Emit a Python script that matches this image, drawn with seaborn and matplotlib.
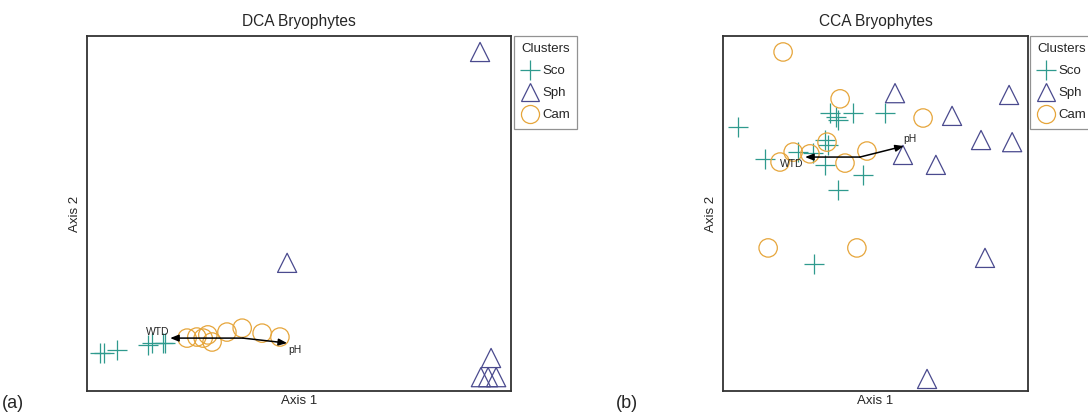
import matplotlib
matplotlib.use("Agg")
import matplotlib.pyplot as plt
from matplotlib.lines import Line2D
import seaborn as sns
import pandas as pd

# ---- DCA site scores ----
dca_sco_x = [0.31, 0.40, 0.71, 1.44, 1.53, 1.79, 1.84]
dca_sco_y = [1.07, 1.07, 1.15, 1.30, 1.35, 1.35, 1.35]
dca_sph_x = [9.27, 4.72, 9.53, 9.29, 9.46, 9.65]
dca_sph_y = [9.55, 3.61, 0.93, 0.39, 0.39, 0.39]
dca_cam_x = [2.36, 2.59, 2.85, 2.95, 3.30, 3.66, 4.13, 4.55, 2.74]
dca_cam_y = [1.49, 1.52, 1.58, 1.38, 1.66, 1.77, 1.63, 1.52, 1.49]
# environmental vectors (origin, WTD tip, pH tip)
dca_origin = (3.68, 1.49)
dca_vec_tips = {"WTD": (1.96, 1.49), "pH": (4.72, 1.35)}
dca_vec_labels = {"WTD": (1.67, 1.66), "pH": (4.91, 1.15)}

# ---- CCA site scores ----
cca_sco_x = [0.49, 3.51, 3.70, 3.77, 4.26, 5.31, 1.38, 2.46, 3.34, 3.44, 2.95, 3.34, 4.59, 3.77, 2.98]
cca_sco_y = [7.44, 7.83, 7.72, 7.63, 7.83, 7.83, 6.54, 6.73, 7.07, 6.93, 6.70, 6.37, 6.08, 5.66, 3.58]
cca_sph_x = [5.64, 9.38, 7.51, 8.46, 9.48, 5.90, 6.98, 8.59, 6.69]
cca_sph_y = [8.39, 8.34, 7.75, 7.07, 7.01, 6.65, 6.37, 3.75, 0.34]
cca_cam_x = [1.97, 3.84, 6.56, 3.41, 2.30, 2.85, 4.72, 4.00, 1.87, 1.48, 4.39]
cca_cam_y = [9.55, 8.23, 7.69, 7.01, 6.73, 6.68, 6.76, 6.42, 6.45, 4.03, 4.03]
cca_origin = (4.49, 6.59)
cca_vec_tips = {"WTD": (2.69, 6.59), "pH": (5.93, 6.90)}
cca_vec_labels = {"WTD": (2.26, 6.39), "pH": (6.13, 7.10)}

clusters = ["Sco", "Sph", "Cam"]
colors = {"Sco": "#2f9a8e", "Sph": "#4a4a8e", "Cam": "#e6a53a"}
markers = {"Sco": "+", "Sph": "^", "Cam": "o"}
sizes = {"Sco": 210, "Sph": 190, "Cam": 175}

sns.set_style("white")
plt.rcParams["font.family"] = ["Liberation Sans", "DejaVu Sans"]

fig = plt.figure(figsize=(10.88, 4.15), dpi=100)
ax_a = fig.add_axes([87 / 1088, 1 - 391 / 415, 424 / 1088, 355 / 415])
ax_b = fig.add_axes([723 / 1088, 1 - 391 / 415, 305 / 1088, 355 / 415])


def draw_panel(ax, groups, origin, tips, label_pos, title):
    for name in clusters:
        xs, ys = groups[name]
        d = pd.DataFrame({"x": xs, "y": ys})
        if markers[name] == "+":
            sns.scatterplot(data=d, x="x", y="y", marker="+", s=sizes[name],
                            color=colors[name], linewidth=0.9, ax=ax, legend=False, zorder=3)
        else:
            sns.scatterplot(data=d, x="x", y="y", marker=markers[name], s=sizes[name],
                            facecolors="none", edgecolor=colors[name], linewidth=0.9,
                            ax=ax, legend=False, zorder=3)
    for key, tip in tips.items():
        ax.annotate("", xy=tip, xytext=origin,
                    arrowprops=dict(arrowstyle="-|>,head_length=0.5,head_width=0.2",
                                    color="black", lw=1.1, shrinkA=0, shrinkB=0),
                    zorder=4)
        lx, ly = label_pos[key]
        ax.text(lx, ly, key, fontsize=7.5, ha="center", va="center", color="#222222", zorder=5)
    ax.set_xlim(0, 10)
    ax.set_ylim(0, 10)
    ax.set_xticks([])
    ax.set_yticks([])
    ax.set_xlabel("Axis 1", fontsize=9.5, labelpad=3)
    ax.set_ylabel("Axis 2", fontsize=9.5, labelpad=4)
    ax.set_title(title, fontsize=11.2, pad=7)
    for sp in ax.spines.values():
        sp.set_visible(True)
        sp.set_color("#333333")
        sp.set_linewidth(1.3)

    handles = []
    for name in clusters:
        if markers[name] == "+":
            h = Line2D([], [], linestyle="none", marker="+", markersize=14,
                       color=colors[name], markeredgewidth=0.9)
        else:
            h = Line2D([], [], linestyle="none", marker=markers[name], markersize=13,
                       markerfacecolor="none", markeredgecolor=colors[name], markeredgewidth=0.9)
        handles.append(h)
    leg = ax.legend(handles, clusters, title="Clusters", loc="upper left",
                    bbox_to_anchor=(1.007, 1.0), fontsize=9.5, title_fontsize=9.5,
                    frameon=True, fancybox=False, handlelength=1.3, handletextpad=0.3,
                    borderpad=0.55, labelspacing=0.75, borderaxespad=0)
    leg.get_frame().set_edgecolor("#777777")
    leg.get_frame().set_linewidth(0.9)
    leg._legend_box.align = "left"
    leg._legend_box.sep = 7


draw_panel(ax_a,
           {"Sco": (dca_sco_x, dca_sco_y), "Sph": (dca_sph_x, dca_sph_y), "Cam": (dca_cam_x, dca_cam_y)},
           dca_origin, dca_vec_tips, dca_vec_labels, "DCA Bryophytes")
draw_panel(ax_b,
           {"Sco": (cca_sco_x, cca_sco_y), "Sph": (cca_sph_x, cca_sph_y), "Cam": (cca_cam_x, cca_cam_y)},
           cca_origin, cca_vec_tips, cca_vec_labels, "CCA Bryophytes")

fig.text(2 / 1088, 1 - 403 / 415, "(a)", fontsize=13, ha="left", va="center")
fig.text(616 / 1088, 1 - 403 / 415, "(b)", fontsize=13, ha="left", va="center")

fig.savefig("out.png", dpi=100)
